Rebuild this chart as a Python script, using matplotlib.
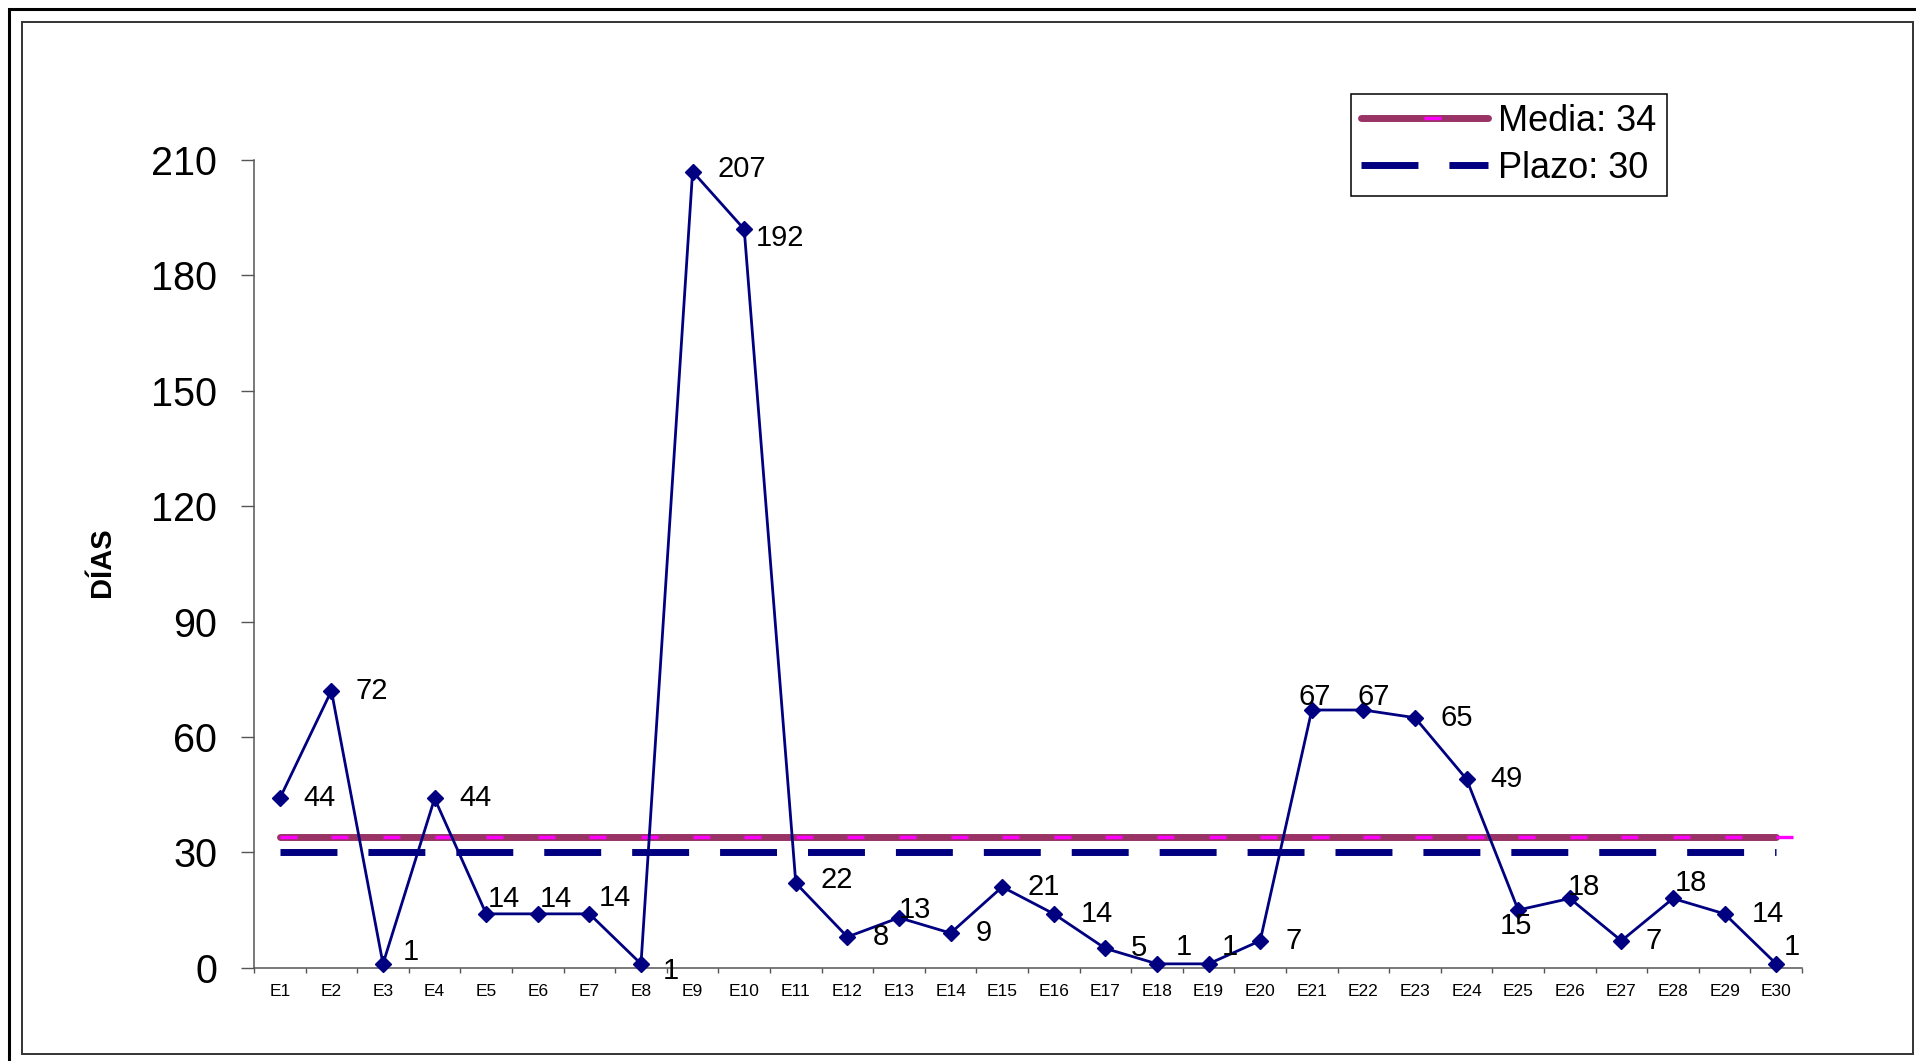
import matplotlib.pyplot as plt
import matplotlib.patches as patches
from matplotlib.path import Path

plt.rcParams['font.family'] = ['Liberation Sans', 'DejaVu Sans']
plt.rcParams['lines.scale_dashes'] = False

W, H = 1916, 1061

expedientes = ['E%d' % i for i in range(1, 31)]
dias = [44, 72, 1, 44, 14, 14, 14, 1, 207, 192,
        22, 8, 13, 9, 21, 14, 5, 1, 1, 7,
        67, 67, 65, 49, 15, 18, 7, 18, 14, 1]
media = 34
plazo = 30
y_ticks = [0, 30, 60, 90, 120, 150, 180, 210]

# desplazamiento de cada etiqueta respecto a su punto (pixeles)
label_offsets = [(24, 0), (24, 0), (20, 12), (25, 0), (2, 15), (2, 15), (9, 16), (22, -7),
                 (25, 3), (12, -9), (25, 3), (25, 0), (0, 8), (25, 0), (25, 0), (27, 0),
                 (25, 0), (19, 17), (13, 17), (25, 0), (-13, 13), (-6, 13), (26, 0), (24, 0),
                 (-18, -16), (-2, 11), (24, 0), (2, 15), (27, 0), (8, 17)]


def px(x, y):
    # pixeles de la imagen -> fraccion de figura
    return x / W, 1 - y / H


def draw_frames(fig):
    outer = patches.Rectangle(px(9, 1200), 1.2, (1200 - 9) / H, transform=fig.transFigure,
                              fill=False, edgecolor='black', linewidth=2.2)
    inner = patches.Rectangle(px(22, 1054), (1913 - 22) / W, (1054 - 22) / H,
                              transform=fig.transFigure, fill=False,
                              edgecolor='#333333', linewidth=1.4)
    fig.patches.extend([outer, inner])


def plot_data():
    fig = plt.figure(figsize=(W / 100, H / 100), dpi=100)
    draw_frames(fig)
    left, bottom = px(254, 967.7)
    ax = fig.add_axes([left, bottom, 1548 / W, (967.7 - 160) / H])

    x = list(range(len(dias)))

    dash_marker = Path([(0, 0), (1, 0)])
    ax.plot(x, [media] * len(x), color='#993366', linewidth=5, solid_capstyle='round',
            marker=dash_marker, markersize=24.5, markeredgecolor='#FF00FF',
            markeredgewidth=2.4, markerfacecolor='none', zorder=2)
    ax.plot(x, [plazo] * len(x), color='#000080', linewidth=5,
            dashes=(41, 22.3), dash_capstyle='butt', zorder=2)
    ax.plot(x, dias, color='#000080', linewidth=2, marker='D', markersize=8.5,
            markerfacecolor='#000080', markeredgecolor='#000080', zorder=3,
            clip_on=False)

    for i, v in enumerate(dias):
        ax.annotate(str(v), (x[i], v), xytext=label_offsets[i], textcoords='offset pixels',
                    ha='left', va='center', fontsize=21, color='black', zorder=4)

    ax.set_xlim(-0.5, len(dias) - 0.5)
    ax.set_ylim(0, 210)
    ax.set_xticks(x)
    ax.set_xticklabels(expedientes, fontsize=12.5)
    ax.set_xticks([i - 0.5 for i in range(len(dias) + 1)], minor=True)
    ax.tick_params(axis='x', which='major', length=0, pad=12)
    ax.tick_params(axis='x', which='minor', length=3.6, width=1, color='#555555',
                   direction='out')
    ax.set_yticks(y_ticks)
    ax.tick_params(axis='y', length=9.4, width=1, color='#555555', pad=17, labelsize=28.5)

    for side in ['top', 'right']:
        ax.spines[side].set_visible(False)
    for side in ['left', 'bottom']:
        ax.spines[side].set_color('#555555')
        ax.spines[side].set_linewidth(1.1)

    fig.text(*px(102, 562), 'DÍAS', rotation=90, ha='center', va='center',
             fontsize=21, fontweight='bold')

    h_media = plt.Line2D([], [], color='#993366', linewidth=5, solid_capstyle='round',
                         marker=dash_marker, markersize=24.5, markeredgecolor='#FF00FF',
                         markeredgewidth=2.4, markerfacecolor='none')
    h_plazo = plt.Line2D([], [], color='#000080', linewidth=5, dashes=(41, 22.3),
                         dash_capstyle='butt')
    leg = ax.legend([h_media, h_plazo], ['Media: %d' % media, 'Plazo: %d' % plazo],
                    loc='upper left', bbox_to_anchor=px(1351, 94),
                    bbox_transform=fig.transFigure, borderaxespad=0, fontsize=26,
                    handlelength=3.5, handletextpad=0.3, borderpad=0.28,
                    labelspacing=0.32, numpoints=1, fancybox=False, framealpha=1)
    leg.get_frame().set_edgecolor('black')
    leg.get_frame().set_linewidth(1.1)

    fig.savefig('out.png', dpi=100)


if __name__ == '__main__':
    plot_data()
